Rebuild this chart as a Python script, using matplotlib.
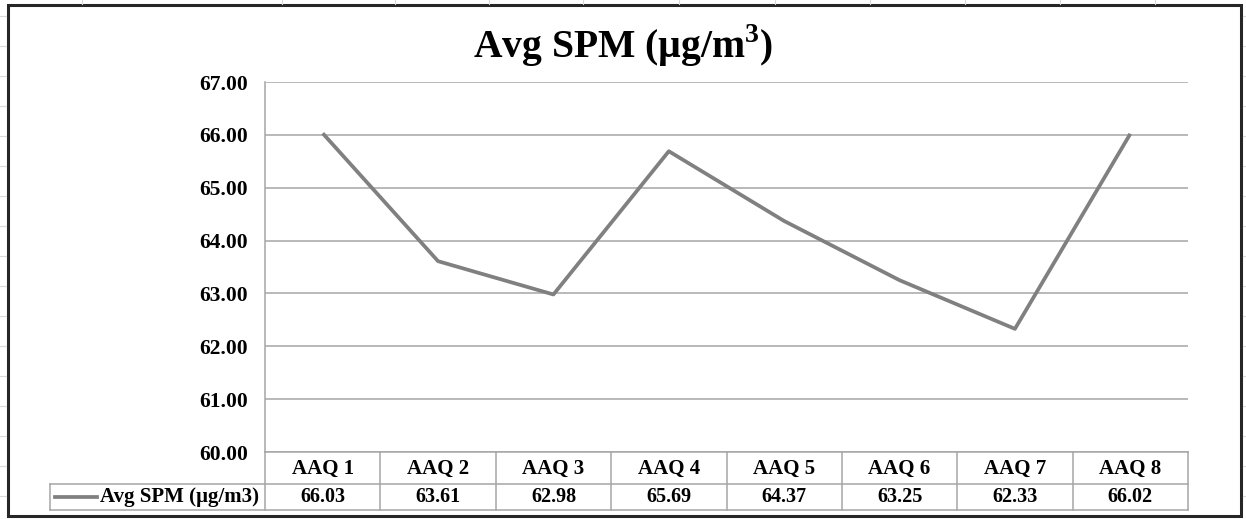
import matplotlib.pyplot as plt
from matplotlib.lines import Line2D
from matplotlib.patches import Rectangle

# data
stations = ["AAQ 1", "AAQ 2", "AAQ 3", "AAQ 4", "AAQ 5", "AAQ 6", "AAQ 7", "AAQ 8"]
spm = [66.03, 63.61, 62.98, 65.69, 64.37, 63.25, 62.33, 66.02]
series_name = "Avg SPM (\u00b5g/m3)"
title = "Avg SPM (\u00b5g/m$^\\mathbf{3}$)"
yticks = [60, 61, 62, 63, 64, 65, 66, 67]

W, H = 1246, 519
plt.rcParams["font.family"] = ["Liberation Serif", "DejaVu Serif"]
plt.rcParams["font.weight"] = "bold"
plt.rcParams["mathtext.fontset"] = "custom"
plt.rcParams["mathtext.bf"] = "Liberation Serif:bold"
plt.rcParams["mathtext.rm"] = "Liberation Serif:bold"

fig = plt.figure(figsize=(W / 100, H / 100), dpi=100)


def fx(px):
    return px / W


def fy(py):
    return 1 - py / H


# faint spreadsheet grid behind the chart
for x in [82, 282, 395, 489, 583, 679, 775, 870, 965, 1060, 1155]:
    fig.add_artist(Line2D([fx(x), fx(x)], [fy(0), fy(4)], color="#d9d9d9", lw=0.8))
for y in range(16, 519, 30):
    fig.add_artist(Line2D([fx(0), fx(6)], [fy(y), fy(y)], color="#d9d9d9", lw=0.8))
    fig.add_artist(Line2D([fx(1243), fx(1246)], [fy(y), fy(y)], color="#d9d9d9", lw=0.8))

# chart border
fig.add_artist(Rectangle((fx(8), fy(516)), fx(1241) - fx(8), fy(5) - fy(516),
                         fill=False, ec="#262626", lw=2.2))

# plot area
left, right, top, bottom = 265, 1188, 82, 452
ax = fig.add_axes([fx(left), fy(bottom), fx(right) - fx(left), fy(top) - fy(bottom)])
x = list(range(len(stations)))
ax.plot(x, spm, color="#808080", lw=2.7, solid_capstyle="butt")
ax.set_xlim(-0.5, len(stations) - 0.5)
ax.set_ylim(60, 67)
ax.set_yticks(yticks)
ax.set_yticklabels([f"{v:.2f}" for v in yticks], fontsize=15.5, fontweight="bold")
ax.tick_params(axis="y", length=0, pad=12)
ax.set_xticks([])
ax.yaxis.grid(True, color="#a6a6a6", lw=1.1)
ax.set_axisbelow(True)
for s in ["top", "right", "bottom"]:
    ax.spines[s].set_visible(False)
ax.spines["left"].set_color("#a6a6a6")
ax.spines["left"].set_linewidth(1.1)

fig.text(0.5, fy(46), title, ha="center", va="center", fontsize=28.5, fontweight="bold")

# data table below the plot area
col_w = (right - left) / len(stations)
row1_b, row2_b = 484, 510
label_left = 50
gc = "#a6a6a6"
# horizontal lines
fig.add_artist(Line2D([fx(left), fx(right)], [fy(bottom), fy(bottom)], color=gc, lw=1.1))
fig.add_artist(Line2D([fx(label_left), fx(right)], [fy(row1_b), fy(row1_b)], color=gc, lw=1.1))
fig.add_artist(Line2D([fx(label_left), fx(right)], [fy(row2_b), fy(row2_b)], color=gc, lw=1.1))
# vertical lines
fig.add_artist(Line2D([fx(label_left), fx(label_left)], [fy(row1_b), fy(row2_b)], color=gc, lw=1.1))
for i in range(len(stations) + 1):
    xp = left + i * col_w
    fig.add_artist(Line2D([fx(xp), fx(xp)], [fy(bottom), fy(row2_b)], color=gc, lw=1.1))
for i, (name, val) in enumerate(zip(stations, spm)):
    xc = left + (i + 0.5) * col_w
    fig.text(fx(xc), fy((bottom + row1_b) / 2 + 1), name, ha="center", va="center",
             fontsize=15, fontweight="bold")
    fig.text(fx(xc), fy((row1_b + row2_b) / 2), f"{val:.2f}", ha="center", va="center",
             fontsize=14.5, fontweight="bold")
# legend key + series name
ky = (row1_b + row2_b) / 2
fig.add_artist(Line2D([fx(55), fx(97)], [fy(ky), fy(ky)], color="#808080", lw=2.7))
fig.text(fx(259), fy(ky), series_name, ha="right", va="center", fontsize=15, fontweight="bold")

fig.savefig("out.png", dpi=100)
